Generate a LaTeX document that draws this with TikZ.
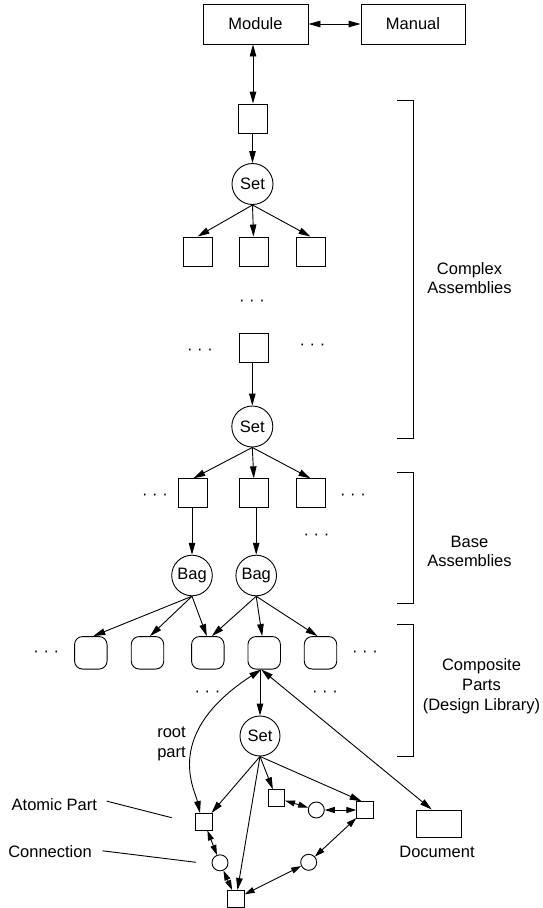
\documentclass[tikz,border=0pt]{standalone}
\usepackage{fontspec}
\setmainfont{Liberation Sans}
\usetikzlibrary{arrows.meta,calc}
\begin{document}
\begin{tikzpicture}[x=1pt,y=-1pt,
  every node/.style={font=\fontsize{16.5}{19}\selectfont, inner sep=0pt},
  ln/.style={line width=0.9pt},
  arr/.style={ln, -{Triangle[length=12pt,width=6.5pt]}},
  darr/.style={ln, {Triangle[length=12pt,width=6.5pt]}-{Triangle[length=12pt,width=6.5pt]}},
  sarr/.style={ln, {Triangle[length=10pt,width=6pt]}-{Triangle[length=10pt,width=6pt]}},
  bigbox/.style={draw, line width=0.9pt, minimum height=40pt},
  sq/.style={draw, line width=0.9pt, minimum size=29pt},
  circ/.style={draw, circle, line width=0.9pt, minimum size=41pt},
  rbox/.style={draw, line width=0.9pt, rounded corners=8pt, minimum size=32.5pt},
  atom/.style={draw, line width=0.9pt, minimum size=16.5pt},
  conn/.style={draw, circle, line width=0.9pt, minimum size=16pt},
  lab/.style={anchor=base},
  dotsn/.style={anchor=base}
]
\useasboundingbox (0,0) rectangle (542,908);

% top
\node[bigbox, minimum width=105pt] (module) at (255.5,24) {Module};
\node[bigbox, minimum width=104pt] (manual) at (413,24) {Manual};
\node[sq] (b0) at (253,118.5) {};
\node[circ] (set1) at (252.5,184) {Set};
\node[sq] (t1) at (197.5,251.5) {};
\node[sq] (t2) at (253.5,251.5) {};
\node[sq] (t3) at (310.5,251.5) {};
\node[dotsn] (dA) at (252,305.7) {· · ·};
\node[sq] (mb) at (253.5,348) {};
\node[dotsn] (dB) at (200,354.3) {· · ·};
\node[dotsn] (dC) at (312.5,349.3) {· · ·};
\node[circ] (set2) at (252.3,426.5) {Set};

% base assemblies
\node[sq] (r1) at (193.3,493.3) {};
\node[sq] (r2) at (253.8,493.3) {};
\node[sq] (r3) at (310.5,493.3) {};
\node[dotsn] (dD) at (155,499) {· · ·};
\node[dotsn] (dE) at (353,499.3) {· · ·};
\node[dotsn] (dF) at (316.5,539.3) {· · ·};
\node[circ, minimum size=40.6pt] (bag1) at (192,575.5) {Bag};
\node[circ, minimum size=40.6pt] (bag2) at (256.2,575.5) {Bag};

% composite parts
\node[rbox] (c1) at (90.8,652.8) {};
\node[rbox] (c2) at (147.5,652.8) {};
\node[rbox] (c3) at (207.8,652.8) {};
\node[rbox] (c4) at (264.2,652.8) {};
\node[rbox] (c5) at (320.5,652.8) {};
\node[dotsn] (dG) at (46.3,656.5) {· · ·};
\node[dotsn] (dH) at (365,656.7) {· · ·};
\node[dotsn] (dI) at (207.5,696.7) {· · ·};
\node[dotsn] (dJ) at (325,696) {· · ·};
\node[circ, minimum size=40pt] (set3) at (260,736) {Set};

% atomic parts
\node[atom] (a1) at (204,821.7) {};
\node[atom] (a2) at (276.3,798) {};
\node[atom] (a3) at (365,810) {};
\node[atom] (a4) at (236,898.7) {};
\node[conn] (cn1) at (220,862.8) {};
\node[conn] (cn2) at (316.3,810) {};
\node[conn] (cn3) at (308.7,862.3) {};
\node[draw, line width=0.9pt, minimum width=45pt, minimum height=27.7pt] (doc) at (439.2,823.8) {};

% labels
\node[lab] (lcx1) at (469.5,274.3) {Complex};
\node[lab] (lcx2) at (469.5,293.3) {Assemblies};
\node[lab] (lba1) at (469.5,547.3) {Base};
\node[lab] (lba2) at (469.5,566.7) {Assemblies};
\node[lab] (lco1) at (481.5,670.5) {Composite};
\node[lab] (lco2) at (481.5,690) {Parts};
\node[lab] (lco3) at (481.5,710) {(Design Library)};
\node[lab] (lroot) at (171.5,737.3) {root};
\node[lab] (lpart) at (171.5,757.3) {part};
\node[lab] (latom) at (54.3,810) {Atomic Part};
\node[lab] (lconn) at (50,857.7) {Connection};
\node[lab] (ldoc) at (437,857.7) {Document};

% brackets
\draw[ln] (397,100) -- (413,100) -- (413,438.3) -- (397,438.3);
\draw[ln] (397,472) -- (413,472) -- (413,603.3) -- (397,603.3);
\draw[ln] (397,624.3) -- (413,624.3) -- (413,756.7) -- (397,756.7);

% connectors top
\draw[darr] (module.east) -- (manual.west);
\draw[darr] (b0.north |- module.south) -- (b0.north);
\draw[arr] (set1.north |- b0.south) -- (set1.north);
\draw[arr] (set1.south) -- (t1.north);
\draw[arr] (set1.south) -- (t2.north);
\draw[arr] (set1.south) -- (t3.north);
\draw[arr] (set2.north |- mb.south) -- (set2.north);
\draw[arr] (set2.south) -- (r1.north);
\draw[arr] (set2.south) -- (r2.north);
\draw[arr] (set2.south) -- (r3.north);
\draw[arr] (bag1.north |- r1.south) -- (bag1.north);
\draw[arr] (bag2.north |- r2.south) -- (bag2.north);
\draw[arr] (bag1.south) -- ($(c1.north)+(2.5,0)$);
\draw[arr] (bag1.south) -- ($(c2.north)+(2.5,0)$);
\draw[arr] (bag1.south) -- ($(c3.north)+(-1,0)$);
\draw[arr] (bag2.south) -- ($(c3.north)+(4,0)$);
\draw[arr] (bag2.south) -- ($(c4.north)+(-2,0)$);
\draw[arr] (bag2.south) -- ($(c5.north)+(-3,0)$);
\draw[arr] (set3.north |- c4.south) -- (set3.north);

% root part curve and document
\coordinate (p) at ($(c4.south)+(-3,0)$);
\draw[darr] (p) .. controls (162,734) and (195,790) .. ($(a1.north)+(-4,0)$);
\draw[darr] (p) -- ($(doc.north)+(-7.5,0)$);

% set3 to atomic parts
\draw[arr] (set3.south) -- (a1);
\draw[arr] (set3.south) -- (a4);
\draw[arr] (set3.south) -- (a2);
\draw[arr] (set3.south) -- ($(a3.north)+(-3.3,0)$);

% connections
\draw[sarr] (a1) -- (cn1);
\draw[sarr] (cn1) -- (a4);
\draw[sarr] (a2) -- (cn2);
\draw[sarr] (cn2) -- (a3);
\draw[sarr] (a3) -- (cn3);
\draw[sarr] (cn3) -- (a4);

% leader lines
\coordinate (la) at (171.7,817.7);
\coordinate (lc) at (196,862.3);
\draw[ln] ($(latom.east)+(9.5,-3)$) -- (la);
\draw[ln] ($(lconn.east)+(10.6,-1)$) -- (lc);
\end{tikzpicture}
\end{document}
